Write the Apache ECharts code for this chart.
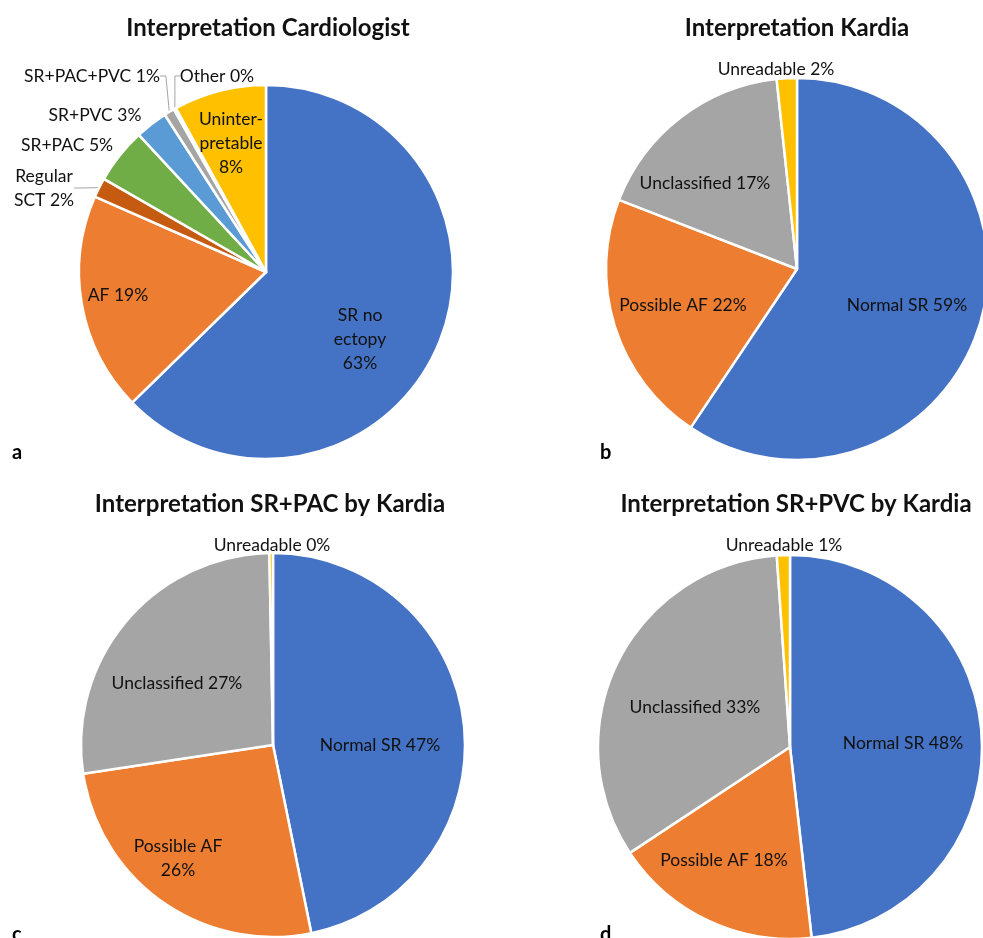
<!DOCTYPE html>
<html>
<head>
<meta charset="utf-8">
<script src="https://cdn.jsdelivr.net/npm/echarts@6/dist/echarts.min.js"></script>
<style>
  html, body { margin: 0; padding: 0; background: #fff; }
  #chart { width: 983px; height: 938px; }
</style>
</head>
<body>
<div id="chart"></div>
<script>
// panel a - cardiologist
const cardioNames = ['SR no ectopy', 'AF', 'Regular SCT', 'SR+PAC', 'SR+PVC', 'SR+PAC+PVC', 'Other', 'Uninterpretable']
const cardioLabels = ['SR no\nectopy\n', 'AF ', 'Regular\nSCT ', 'SR+PAC ', 'SR+PVC ', 'SR+PAC+PVC ', 'Other ', 'Uninter-\npretable\n']
const cardioValues = [62.7, 18.9, 1.7, 4.8, 2.8, 0.9, 0.2, 8.0]

// panels b, c, d - Kardia
const kardiaNames = ['Normal SR', 'Possible AF', 'Unclassified', 'Unreadable']
const kardiaAllValues = [59.4, 21.5, 17.4, 1.7]
const kardiaPacValues = [46.8, 25.8, 27.1, 0.3]
const kardiaPvcValues = [48.2, 17.5, 33.2, 1.1]
const kardiaPacLabels = ['Normal SR ', 'Possible AF\n', 'Unclassified ', 'Unreadable ']

const titles = ['Interpretation Cardiologist', 'Interpretation Kardia', 'Interpretation SR+PAC by Kardia', 'Interpretation SR+PVC by Kardia']
const panelLetters = ['a', 'b', 'c', 'd']

// styles / layout
const cardioColors = ['#4472C4', '#ED7D31', '#C55A11', '#70AD47', '#5B9BD5', '#A5A5A5', '#7F7F7F', '#FFC000']
const kardiaColors = ['#4472C4', '#ED7D31', '#A5A5A5', '#FFC000']
const cardioLeader = [false, false, true, false, false, true, true, false]
// label anchor, offset from the pie centre
const cardioLabelAt = [[94, 67], [-148, 23], [-222, -84], [-199, -127], [-171, -157], [-174, -196], [-49, -196], [-35, -129]]
const kardiaAllLabelAt = [[110, 36], [-114, 36], [-92, -86], [-21, -200]]
const kardiaPacLabelAt = [[107, 0], [-95, 113], [-96, -62], [-1, -200]]
const kardiaPvcLabelAt = [[113, -4], [-66, 113], [-95, -40], [-6, -202]]

const FONT = 'Lato'
const pct = p => Math.round(p.percent) + '%'

function pieSeries(names, values, colors, labels, center, radius, labelAt, leader) {
  return {
    type: 'pie',
    center,
    radius,
    startAngle: 90,
    clockwise: true,
    animation: false,
    data: names.map((n, i) => ({
      name: n,
      value: values[i],
      itemStyle: { color: colors[i] },
      labelText: labels ? labels[i] : n + ' ',
      labelLine: { show: !!(leader && leader[i]) }
    })),
    itemStyle: { borderColor: '#fff', borderWidth: 2.5 },
    label: {
      position: 'outside',
      overflow: 'none',
      color: '#111',
      fontFamily: FONT,
      fontSize: 17.5,
      lineHeight: 24,
      formatter: p => p.data.labelText + pct(p)
    },
    labelLine: { length: 6, length2: 6, lineStyle: { color: '#A5A5A5', width: 1 } },
    labelLayout: p => ({
      x: center[0] + labelAt[p.dataIndex][0],
      y: center[1] + labelAt[p.dataIndex][1],
      align: 'center',
      verticalAlign: 'middle'
    })
  }
}

const chart = echarts.init(document.getElementById('chart'))

const titleCenters = [[263, 11], [792, 11], [265, 487], [791, 487]]
const letterPos = [[12, 443], [600, 443], [12, 925], [600, 925]]

chart.setOption({
  backgroundColor: '#fff',
  title: titles.map((t, i) => ({
    text: t,
    left: titleCenters[i][0],
    top: titleCenters[i][1],
    textAlign: 'center',
    textStyle: { fontFamily: FONT, fontWeight: 'bold', fontSize: 24, color: '#111' }
  })),
  graphic: panelLetters.map((l, i) => ({
    type: 'text',
    left: letterPos[i][0],
    top: letterPos[i][1],
    style: { text: l, font: 'bold 20px ' + FONT, fill: '#000' }
  })),
  series: [
    pieSeries(cardioNames, cardioValues, cardioColors, cardioLabels, [266, 272], 187, cardioLabelAt, cardioLeader),
    pieSeries(kardiaNames, kardiaAllValues, kardiaColors, null, [797, 269], 191, kardiaAllLabelAt),
    pieSeries(kardiaNames, kardiaPacValues, kardiaColors, kardiaPacLabels, [273, 745], 192, kardiaPacLabelAt),
    pieSeries(kardiaNames, kardiaPvcValues, kardiaColors, null, [790, 747], 192, kardiaPvcLabelAt)
  ]
})
</script>
</body>
</html>
